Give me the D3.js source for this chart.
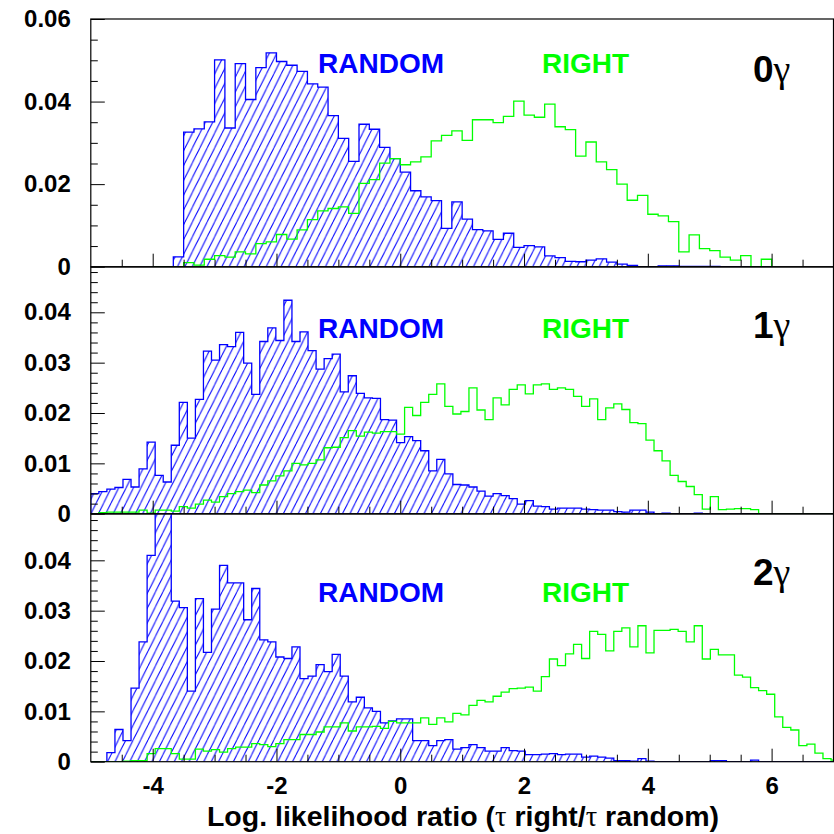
<!DOCTYPE html>
<html>
<head>
<meta charset="utf-8">
<script src="https://cdn.jsdelivr.net/npm/d3@7"></script>
<style>
  html, body { margin: 0; padding: 0; background: #ffffff; }
  svg text { font-family: "Liberation Sans", Arial, Helvetica, sans-serif; }
</style>
</head>
<body>
<svg id="chart" width="834" height="834"></svg>
<script>
// ---- Histogram contents (normalised entries per bin) ----
// 0 photons: 60 bins of width 1/6 starting at -4
const random0g = [0,0,0.0024,0.0326,0.0334,0.0351,0.0501,0.0336,0.0492,0.0405,
  0.0482,0.0518,0.0497,0.0488,0.0473,0.0443,0.0435,0.0366,0.0311,0.0255,
  0.0345,0.0333,0.0289,0.0262,0.0229,0.0184,0.0169,0.0160,0.0093,0.0157,
  0.0115,0.0090,0.0087,0.0066,0.0081,0.0047,0.0051,0.0048,0.0026,0.0022,
  0.0013,0.0012,0.0016,0.0019,0.0011,0.0006,0.0003,0,0,0.0002,
  0.0002,0.0001,0.0001,0.0001,0.0001,0,0,0,0,0];
const right0g = [0,0,0,0.0010,0.0004,0.0018,0.0027,0.0023,0.0036,0.0031,
  0.0056,0.0060,0.0078,0.0067,0.0089,0.0114,0.0135,0.0141,0.0145,0.0129,
  0.0202,0.0211,0.0251,0.0262,0.0247,0.0254,0.0266,0.0305,0.0318,0.0329,
  0.0306,0.0356,0.0356,0.0349,0.0364,0.0401,0.0367,0.0362,0.0394,0.0339,
  0.0332,0.0268,0.0302,0.0254,0.0235,0.0200,0.0161,0.0173,0.0127,0.0123,
  0.0109,0.0036,0.0077,0.0044,0.0039,0.0023,0.0016,0.0027,0,0.0018];

// 1 photon: bins of width 0.13 starting at -5
const random1g = [0.0040,0.0044,0.0049,0.0052,0.0068,0.0053,0.0089,0.0142,0.0076,0.0063,
  0.0136,0.0221,0.0150,0.0227,0.0323,0.0305,0.0336,0.0332,0.0360,0.0299,
  0.0237,0.0342,0.0369,0.0344,0.0424,0.0342,0.0361,0.0324,0.0287,0.0308,
  0.0317,0.0242,0.0274,0.0239,0.0230,0.0229,0.0187,0.0186,0.0141,0.0153,
  0.0145,0.0125,0.0085,0.0108,0.0079,0.0058,0.0057,0.0053,0.0045,0.0035,
  0.0040,0.0036,0.0030,0.0019,0.0026,0.0015,0.0014,0.0009,0.0011,0.0011,
  0.0011,0.0009,0.0008,0.0007,0.0007,0.0004,0.0003,0.0007,0.0007,0.0003,
  0,0.0001,0,0,0,0.0001,0,0,0,0,
  0,0,0,0,0,0,0,0,0,0,
  0,0,0];
const right1g = [0,0.0002,0.0003,0.0003,0.0003,0.0003,0.0007,0.0001,0.0007,0.0007,
  0.0005,0.0014,0.0011,0.0019,0.0027,0.0023,0.0034,0.0040,0.0044,0.0047,
  0.0042,0.0057,0.0065,0.0075,0.0085,0.0100,0.0097,0.0100,0.0107,0.0131,
  0.0132,0.0151,0.0165,0.0154,0.0162,0.0160,0.0163,0.0163,0.0158,0.0211,
  0.0195,0.0221,0.0237,0.0258,0.0213,0.0198,0.0203,0.0250,0.0206,0.0187,
  0.0230,0.0216,0.0247,0.0256,0.0238,0.0256,0.0258,0.0247,0.0250,0.0247,
  0.0233,0.0213,0.0228,0.0187,0.0210,0.0218,0.0207,0.0181,0.0179,0.0146,
  0.0125,0.0105,0.0076,0.0064,0.0054,0.0038,0.0009,0.0034,0.0008,0.0009,
  0.0010,0.0010,0.0008,0,0,0,0,0,0,0,
  0,0,0];

// 2 photons: bins of width 0.13 starting at -5
const random2g = [0,0,0.0018,0.0064,0.0042,0.0146,0.0238,0.0410,0.0520,0.0520,
  0.0319,0.0306,0.0140,0.0324,0.0217,0.0303,0.0390,0.0355,0.0355,0.0282,
  0.0344,0.0242,0.0238,0.0208,0.0205,0.0228,0.0165,0.0170,0.0193,0.0179,
  0.0213,0.0170,0.0119,0.0128,0.0107,0.0100,0.0077,0.0081,0.0085,0.0085,
  0.0042,0.0042,0.0032,0.0042,0.0044,0.0025,0.0028,0.0034,0.0028,0.0021,
  0.0021,0.0028,0.0022,0.0021,0.0014,0.0014,0.0015,0.0016,0.0014,0.0015,
  0.0015,0.0009,0.0011,0.0009,0.0007,0.0002,0.0002,0.0001,0.0006,0.0001,
  0,0,0,0,0,0,0,0.0002,0.0002,0,
  0,0,0.0003,0,0,0,0,0,0,0,
  0,0,0];
const right2g = [0,0,0,0,0.0001,0.0002,0.0002,0.0016,0.0026,0.0026,
  0.0016,0.0005,0.0005,0.0025,0.0021,0.0024,0.0019,0.0026,0.0029,0.0029,
  0.0036,0.0034,0.0030,0.0036,0.0044,0.0044,0.0054,0.0054,0.0059,0.0069,
  0.0069,0.0077,0.0061,0.0069,0.0069,0.0070,0.0066,0.0080,0.0077,0.0077,
  0.0077,0.0087,0.0074,0.0087,0.0079,0.0096,0.0093,0.0112,0.0122,0.0119,
  0.0130,0.0138,0.0145,0.0146,0.0148,0.0140,0.0169,0.0204,0.0191,0.0214,
  0.0233,0.0205,0.0259,0.0253,0.0220,0.0259,0.0266,0.0228,0.0270,0.0216,
  0.0261,0.0261,0.0263,0.0259,0.0238,0.0270,0.0204,0.0223,0.0212,0.0212,
  0.0172,0.0168,0.0147,0.0141,0.0134,0.0089,0.0068,0.0063,0.0032,0.0035,
  0.0017,0.0006,0.0003];

// Binning
const binStart0g = -4, binWidth0g = 1 / 6;
const binStartNg = -5, binWidthNg = 0.13;

// Axis ticks and labels
const xDomain = [-5, 7];
const xMajorTicks = [-4, -2, 0, 2, 4, 6];
const xMajorLabels = ["-4", "-2", "0", "2", "4", "6"];
const xMinorStep = 0.5;
const yMajor0g = [0, 0.02, 0.04, 0.06];
const yLabels0g = ["0", "0.02", "0.04", "0.06"];
const yMajorNg = [0, 0.01, 0.02, 0.03, 0.04];
const yLabelsNg = ["0", "0.01", "0.02", "0.03", "0.04"];
const yMax = [0.06, 0.0490, 0.0492];
const yMinorStep = [0.005, 0.002, 0.002];
const photonTags = ["0", "1", "2"];
const seriesNames = ["RANDOM", "RIGHT"];
const xTitleParts = ["Log. likelihood ratio (", "\u03c4", " right/", "\u03c4", " random)"];

// ---- Layout ----
const BLUE = "#0000ff", GREEN = "#00ff00";
const plotLeft = 90.8, plotRight = 833.5;
const panelBounds = [[19, 266.7], [267, 513.7], [514, 761.7]];
const textBase = [73.3, 338.3, 601.7];
const tagBase = [82, 338, 585];

const svg = d3.select("#chart");
const x = d3.scaleLinear().domain(xDomain).range([plotLeft, plotRight]);

// Diagonal hatch used for the RANDOM histograms
const defs = svg.append("defs");
const hw = 7.4, hh = 14.8;
defs.append("pattern")
  .attr("id", "hatch")
  .attr("patternUnits", "userSpaceOnUse")
  .attr("width", hw).attr("height", hh)
  .append("path")
  .attr("d", `M0,${hh} L${hw},0 M${-hw},${hh} L0,0 M${hw},${hh} L${2 * hw},0`)
  .attr("stroke", BLUE).attr("stroke-width", 1).attr("fill", "none");

const panels = [
  { random: random0g, right: right0g, start: binStart0g, width: binWidth0g, major: yMajor0g, labels: yLabels0g },
  { random: random1g, right: right1g, start: binStartNg, width: binWidthNg, major: yMajorNg, labels: yLabelsNg },
  { random: random2g, right: right2g, start: binStartNg, width: binWidthNg, major: yMajorNg, labels: yLabelsNg }
];

// Step outline points for a histogram: drops to zero at both ends
function stepPoints(values, start, width) {
  const pts = [{ e: start, v: 0 }];
  values.forEach((v, i) => pts.push({ e: start + i * width, v }));
  const end = start + values.length * width;
  pts.push({ e: end, v: values[values.length - 1] });
  pts.push({ e: end, v: 0 });
  return pts;
}

panels.forEach((p, i) => {
  const [top, bottom] = panelBounds[i];
  const y = d3.scaleLinear().domain([0, yMax[i]]).range([bottom, top]);

  defs.append("clipPath").attr("id", "clip" + i)
    .append("rect")
    .attr("x", plotLeft).attr("y", top)
    .attr("width", plotRight - plotLeft).attr("height", bottom - top);

  const g = svg.append("g").attr("clip-path", `url(#clip${i})`);

  const randPts = stepPoints(p.random, p.start, p.width);
  const area = d3.area().curve(d3.curveStepAfter)
    .x(d => x(d.e)).y0(y(0)).y1(d => y(d.v));
  const line = d3.line().curve(d3.curveStepAfter)
    .x(d => x(d.e)).y(d => y(d.v));

  g.append("path").datum(randPts).attr("d", area)
    .attr("fill", "url(#hatch)").attr("stroke", "none");
  g.append("path").datum(randPts).attr("d", line)
    .attr("fill", "none").attr("stroke", BLUE).attr("stroke-width", 1.3);

  const rightPts = stepPoints(p.right, p.start, p.width);
  g.append("path").datum(rightPts).attr("d", line)
    .attr("fill", "none").attr("stroke", GREEN).attr("stroke-width", 1.3);

  // Frame
  svg.append("rect")
    .attr("x", plotLeft).attr("y", top)
    .attr("width", plotRight - plotLeft).attr("height", bottom - top)
    .attr("fill", "none").attr("stroke", "#000").attr("stroke-width", 1.2);

  // Y axis: minor then major ticks, drawn inward
  const minor = d3.range(0, yMax[i] + 1e-9, yMinorStep[i])
    .filter(v => !p.major.some(m => Math.abs(m - v) < 1e-9));
  const yMinorAxis = svg.append("g").attr("transform", `translate(${plotLeft},0)`)
    .call(d3.axisLeft(y).tickValues(minor).tickSize(-7).tickFormat(""));
  const yMajorAxis = svg.append("g").attr("transform", `translate(${plotLeft},0)`)
    .call(d3.axisLeft(y).tickValues(p.major).tickSize(-14).tickPadding(20)
      .tickFormat((d, k) => p.labels[k]));
  [yMinorAxis, yMajorAxis].forEach(a => {
    a.select(".domain").remove();
    a.selectAll("line").attr("stroke", "#000").attr("stroke-width", 1);
  });
  yMajorAxis.selectAll("text")
    .attr("font-size", 24).attr("font-weight", "bold").attr("fill", "#000")
    .attr("font-family", "'Liberation Sans', Arial, Helvetica, sans-serif");

  // X axis ticks along the bottom of every panel
  const xMinor = d3.range(xDomain[0] + xMinorStep, xDomain[1], xMinorStep)
    .filter(v => !xMajorTicks.includes(v));
  const xMinorAxis = svg.append("g").attr("transform", `translate(0,${bottom})`)
    .call(d3.axisBottom(x).tickValues(xMinor).tickSize(-7).tickFormat(""));
  const xMajorAxis = svg.append("g").attr("transform", `translate(0,${bottom})`)
    .call(d3.axisBottom(x).tickValues(xMajorTicks).tickSize(-13).tickPadding(15)
      .tickFormat((d, k) => (i === panels.length - 1 ? xMajorLabels[k] : "")));
  [xMinorAxis, xMajorAxis].forEach(a => {
    a.select(".domain").remove();
    a.selectAll("line").attr("stroke", "#000").attr("stroke-width", 1);
  });
  xMajorAxis.selectAll("text")
    .attr("font-size", 24).attr("font-weight", "bold").attr("fill", "#000")
    .attr("font-family", "'Liberation Sans', Arial, Helvetica, sans-serif");

  // Series names and photon multiplicity tag
  svg.append("text").attr("x", 318).attr("y", textBase[i])
    .attr("font-size", 28).attr("font-weight", "bold").attr("fill", BLUE)
    .text(seriesNames[0]);
  svg.append("text").attr("x", 542).attr("y", textBase[i])
    .attr("font-size", 28).attr("font-weight", "bold").attr("fill", GREEN)
    .text(seriesNames[1]);
  const tag = svg.append("text").attr("x", 753).attr("y", tagBase[i]).attr("fill", "#000");
  tag.append("tspan").attr("font-size", 37).attr("font-weight", "bold").text(photonTags[i]);
  tag.append("tspan").attr("font-size", 38).attr("font-weight", "normal")
    .attr("font-family", "'Liberation Serif', 'DejaVu Serif', serif").text("\u03b3");
});

// X axis title
const title = svg.append("text")
  .attr("x", 463).attr("y", 826).attr("text-anchor", "middle")
  .attr("font-size", 28.5).attr("font-weight", "bold").attr("fill", "#000");
xTitleParts.forEach(part => {
  const greek = part === "\u03c4";
  title.append("tspan").text(part)
    .attr("font-weight", greek ? "normal" : "bold")
    .attr("font-family", greek ? "'Liberation Serif', 'DejaVu Serif', serif" : null);
});
</script>
</body>
</html>
